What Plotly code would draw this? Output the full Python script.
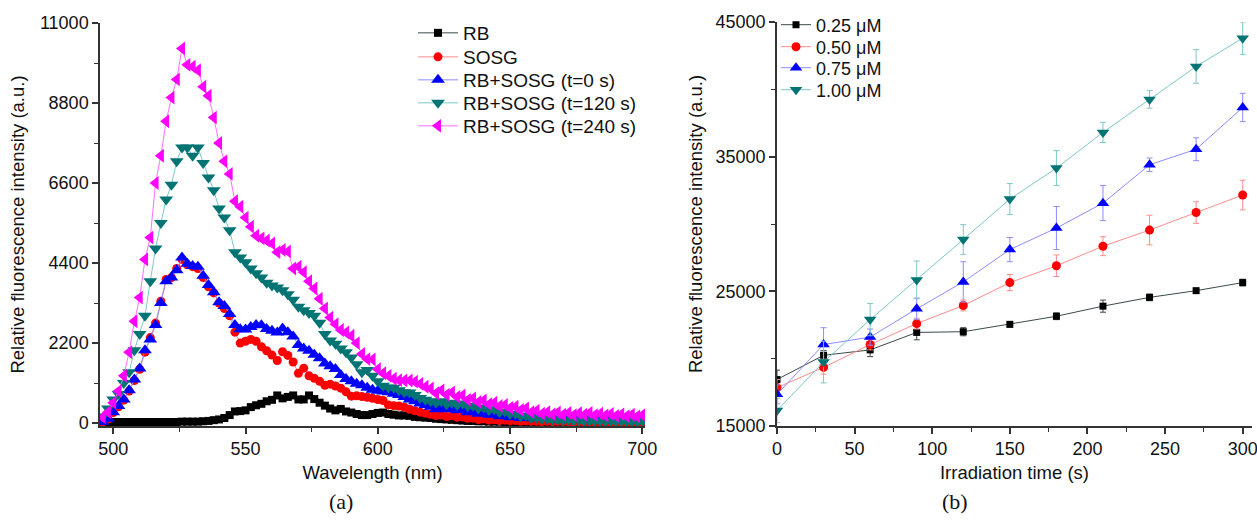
import plotly.graph_objects as go

# ---------------- Panel (a) data ----------------
wavelength = [496, 498, 500, 502, 504, 506, 508, 510, 512, 514,
              516, 518, 520, 522, 524, 526, 528, 530, 532, 534,
              536, 538, 540, 542, 544, 546, 548, 550, 552, 554,
              556, 558, 560, 562, 564, 566, 568, 570, 572, 574,
              576, 578, 580, 582, 584, 586, 588, 590, 592, 594,
              596, 598, 600, 602, 604, 606, 608, 610, 612, 614,
              616, 618, 620, 622, 624, 626, 628, 630, 632, 634,
              636, 638, 640, 642, 644, 646, 648, 650, 652, 654,
              656, 658, 660, 662, 664, 666, 668, 670, 672, 674,
              676, 678, 680, 682, 684, 686, 688, 690, 692, 694,
              696, 698, 700]

rb = [20, 30, 30, 30, 30, 30, 30, 30, 30, 30,
      30, 30, 30, 30, 30, 40, 40, 40, 40, 50,
      60, 80, 100, 140, 220, 320, 330, 350, 440, 490,
      530, 600, 640, 760, 680, 720, 760, 650, 650, 760,
      660, 560, 480, 400, 350, 390, 320, 290, 250, 220,
      220, 250, 280, 290, 250, 230, 210, 210, 200, 170,
      160, 150, 140, 120, 110, 100, 90, 80, 70, 60,
      60, 50, 50, 40, 40, 40, 30, 30, 30, 30,
      30, 30, 30, 30, 30, 30, 30, 30, 30, 30,
      30, 30, 30, 30, 30, 30, 30, 30, 30, 30,
      30, 30, 30]

sosg = [30, 110, 290, 450, 630, 880, 1170, 1480, 1950, 2350,
        2750, 3350, 3950, 4000, 4250, 4500, 4350, 4300, 4250, 4000,
        3750, 3580, 3300, 3150, 2950, 2500, 2200, 2250, 2300, 2250,
        2100, 1990, 1870, 1720, 1960, 1860, 1680, 1370, 1510, 1300,
        1230, 1150, 1040, 1070, 1020, 960, 860, 740, 750, 730,
        710, 680, 650, 620, 500, 480, 470, 440, 380, 340,
        300, 270, 240, 210, 220, 180, 200, 160, 170, 130,
        140, 100, 110, 80, 90, 70, 80, 60, 70, 50,
        60, 50, 50, 40, 50, 40, 50, 40, 40, 30,
        40, 30, 40, 30, 40, 30, 30, 30, 30, 30,
        30, 20, 30]

t0 = [30, 120, 300, 470, 650, 900, 1200, 1500, 2000, 2300,
      2700, 3300, 3900, 4000, 4200, 4550, 4380, 4320, 4300, 4050,
      3800, 3600, 3320, 3220, 3000, 2700, 2580, 2570, 2640, 2700,
      2690, 2590, 2540, 2490, 2600, 2500, 2380, 2150, 2050, 1990,
      1880, 1780, 1640, 1560, 1490, 1320, 1210, 1150, 1080, 1040,
      970, 920, 890, 870, 850, 810, 770, 720, 650, 600,
      540, 500, 450, 380, 420, 380, 400, 350, 380, 300,
      330, 260, 280, 230, 240, 190, 210, 160, 180, 140,
      170, 130, 160, 140, 170, 130, 180, 140, 190, 150,
      200, 150, 190, 140, 180, 150, 200, 140, 180, 150,
      190, 140, 170]

t120 = [180, 400, 650, 800, 1100, 1400, 2000, 2450, 2950, 3900,
        4800, 5500, 6150, 6550, 7200, 7580, 7580, 7350, 7580, 7150,
        6750, 6400, 5900, 5650, 5300, 4700, 4550, 4420, 4250, 4120,
        4000, 3860, 3780, 3730, 3650, 3540, 3390, 3200, 3100, 3030,
        2950, 2760, 2450, 2270, 2180, 2050, 1950, 1800, 1620, 1400,
        1460, 1300, 1150, 1030, 980, 970, 900, 850, 840, 770,
        690, 640, 600, 560, 600, 520, 560, 500, 540, 460,
        480, 400, 430, 360, 380, 300, 320, 250, 260, 190,
        200, 140, 150, 110, 120, 90, 100, 80, 90, 70,
        80, 60, 70, 60, 70, 50, 60, 50, 60, 50,
        50, 40, 50]

t240 = [160, 300, 560, 880, 1300, 1950, 2800, 3450, 4500, 5100,
        6600, 7350, 8300, 8950, 9450, 10300, 9850, 9800, 9700, 9250,
        9000, 8400, 7700, 7200, 6850, 6100, 5950, 5650, 5400, 5150,
        5080, 5020, 4940, 4700, 4760, 4720, 4250, 4300, 4150, 3900,
        3700, 3420, 3150, 2900, 2720, 2560, 2490, 2400, 2200, 1900,
        1760, 1750, 1480, 1370, 1300, 1220, 1180, 1170, 1170, 1140,
        1080, 1000, 950, 820, 900, 780, 840, 720, 760, 640,
        680, 580, 620, 520, 560, 470, 500, 420, 450, 360,
        400, 300, 340, 260, 300, 240, 290, 230, 280, 220,
        270, 230, 280, 220, 260, 210, 250, 200, 240, 190,
        230, 180, 220]

left_names = ["RB", "SOSG", "RB+SOSG (t=0 s)", "RB+SOSG (t=120 s)", "RB+SOSG (t=240 s)"]
left_yticks = [0, 2200, 4400, 6600, 8800, 11000]
left_xticks = [500, 550, 600, 650, 700]

# ---------------- Panel (b) data ----------------
time_s = [0, 30, 60, 90, 120, 150, 180, 210, 240, 270, 300]
c025 = [18450, 20250, 20650, 21950, 22000, 22550, 23150, 23900, 24550, 25050, 25650]
e025 = [700, 350, 500, 550, 300, 200, 250, 450, 250, 150, 250]
c050 = [17850, 19350, 21050, 22600, 23950, 25650, 26900, 28350, 29550, 30850, 32150]
e050 = [600, 500, 400, 400, 400, 600, 800, 700, 1100, 800, 1100]
c075 = [17350, 21050, 21600, 23700, 25700, 28100, 29700, 31550, 34400, 35550, 38650]
e075 = [700, 1250, 600, 800, 1500, 900, 1600, 1300, 500, 850, 1050]
c100 = [16150, 19750, 22900, 25850, 28850, 31850, 34150, 36800, 39250, 41700, 43800]
e100 = [900, 1550, 1200, 1400, 1100, 1150, 1300, 750, 650, 1250, 1200]
right_names = ["0.25 \u03bcM", "0.50 \u03bcM", "0.75 \u03bcM", "1.00 \u03bcM"]
right_yticks = [15000, 25000, 35000, 45000]
right_xticks = [0, 50, 100, 150, 200, 250, 300]

# ---------------- styles ----------------
FONT = "Liberation Sans, Arial, sans-serif"
marker_cols = ["#000000", "#FF0000", "#0000FF", "#007373", "#FF00FF"]
line_cols = ["#3A4A4A", "#FF8C8C", "#8C8CFF", "#7CC8C8", "#FF70FF"]
symbols = ["square", "circle", "triangle-up", "triangle-down", "triangle-left"]
sizes = [8, 9, 12, 12, 12]
r_sizes = [7, 9, 11, 11]

W, H = 1257, 529
def fx(px):
    return px / W
def fy(py):
    return 1 - py / H

# legend row centres (pixels) for each entry
left_leg_y = [33, 57, 80, 103, 126]
right_leg_y = [25, 47, 68, 90]

fig = go.Figure()
legends = {}
k = 0

def leg_name(idx):
    return "legend" if idx == 0 else "legend%d" % (idx + 1)

left_series = [rb, sosg, t0, t120, t240]
for i, ys in enumerate(left_series):
    ln = leg_name(k)
    fig.add_trace(go.Scatter(
        x=wavelength, y=ys, name=left_names[i], mode="lines+markers",
        line=dict(color=line_cols[i], width=1),
        marker=dict(color=marker_cols[i], symbol=symbols[i], size=sizes[i], line=dict(width=0)),
        xaxis="x", yaxis="y", legend=ln))
    legends[ln] = dict(x=fx(413), y=fy(left_leg_y[i]), xanchor="left", yanchor="middle",
                       bgcolor="rgba(0,0,0,0)", font=dict(family=FONT, size=19, color="#111111"),
                       itemwidth=40)
    k += 1

right_series = [(c025, e025), (c050, e050), (c075, e075), (c100, e100)]
for i, (ys, es) in enumerate(right_series):
    ln = leg_name(k)
    fig.add_trace(go.Scatter(
        x=time_s, y=ys, name=right_names[i], mode="lines+markers",
        line=dict(color=line_cols[i], width=1),
        marker=dict(color=marker_cols[i], symbol=symbols[i], size=r_sizes[i], line=dict(width=0)),
        error_y=dict(type="data", array=es, visible=True, color=line_cols[i], thickness=1, width=3),
        xaxis="x2", yaxis="y2", legend=ln))
    legends[ln] = dict(x=fx(776), y=fy(right_leg_y[i]), xanchor="left", yanchor="middle",
                       bgcolor="rgba(0,0,0,0)", font=dict(family=FONT, size=18, color="#111111"),
                       itemwidth=30)
    k += 1

axis_common = dict(showline=True, linecolor="#333333", linewidth=1.5, ticks="outside",
                   ticklen=6, tickwidth=1.5, tickcolor="#333333", showgrid=False, zeroline=False,
                   tickfont=dict(family=FONT, size=18, color="#111111"), mirror=False,
                   automargin=False, ticklabeloverflow="allow")
minor_common = dict(ticks="outside", ticklen=4, tickwidth=1.2, tickcolor="#333333")
title_font = dict(family=FONT, size=18.5, color="#111111")

fig.update_layout(
    width=W, height=H,
    margin=dict(l=0, r=0, t=0, b=0, autoexpand=False),
    paper_bgcolor="white", plot_bgcolor="white",
    font=dict(family=FONT, size=18, color="#111111"),
    xaxis=dict(domain=[fx(100), fx(645)], range=[495, 701],
               tickvals=left_xticks, ticktext=[str(v) for v in left_xticks],
               minor=dict(tickvals=[525, 575, 625, 675], **minor_common),
               title=dict(text="Wavelength (nm)", font=title_font, standoff=8),
               anchor="y", **axis_common),
    yaxis=dict(domain=[fy(426), fy(23)], range=[-80, 11000],
               tickvals=left_yticks, ticktext=[str(v) for v in left_yticks],
               minor=dict(tickvals=[1100, 3300, 5500, 7700, 9900], **minor_common),
               title=dict(text="Relative fluorescence intensity (a.u.)", font=title_font, standoff=10),
               anchor="x", **axis_common),
    xaxis2=dict(domain=[fx(777), fx(1252)], range=[0, 306],
                tickvals=right_xticks, ticktext=[str(v) for v in right_xticks],
                minor=dict(tickvals=[25, 75, 125, 175, 225, 275], **minor_common),
                title=dict(text="Irradiation time (s)", font=title_font, standoff=8),
                anchor="y2", **axis_common),
    yaxis2=dict(domain=[fy(426), fy(22)], range=[15000, 45000],
                tickvals=right_yticks, ticktext=[str(v) for v in right_yticks],
                minor=dict(tickvals=[20000, 30000, 40000], **minor_common),
                title=dict(text="Relative fluorescence intensity (a.u.)", font=title_font, standoff=8),
                anchor="x2", **axis_common),
    showlegend=True,
    annotations=[
        dict(text="(a)", x=fx(327), y=fy(516), xref="paper", yref="paper", showarrow=False,
             font=dict(family="Liberation Serif, DejaVu Serif, serif", size=22, color="#111111")),
        dict(text="(b)", x=fx(970), y=fy(516), xref="paper", yref="paper", showarrow=False,
             font=dict(family="Liberation Serif, DejaVu Serif, serif", size=22, color="#111111")),
    ],
)
fig.update_layout(**legends)

fig.write_html("out.html", config={"displayModeBar": False},
               post_script="document.body.style.margin='0px';")
